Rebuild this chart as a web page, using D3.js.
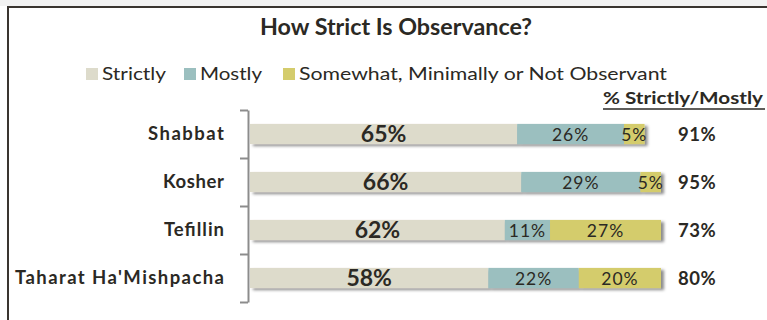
<!DOCTYPE html>
<html><head><meta charset="utf-8">
<script src="https://cdn.jsdelivr.net/npm/d3@7"></script>
<style>
body{margin:0;background:#fff;}
svg{display:block;}
text{font-family:Lato,"Open Sans",sans-serif;fill:#2b2924;}
</style></head>
<body>
<svg id="chart" width="767" height="320"></svg>
<script>
const title = "How Strict Is Observance?";
const categories = ["Shabbat","Kosher","Tefillin","Taharat Ha'Mishpacha"];
const seriesNames = ["Strictly","Mostly","Somewhat, Minimally or Not Observant"];
const strictly = [65,66,62,58];
const mostly = [26,29,11,22];
const somewhat = [5,5,27,20];
const totals = [91,95,73,80];
const totalHeader = "% Strictly/Mostly";
const colors = ["#DDDBCB","#9BBFBF","#D4CC6C"];

const svg = d3.select("#chart");
const defs = svg.append("defs");
const f = defs.append("filter").attr("id","sh").attr("x","-10%").attr("y","-50%").attr("width","130%").attr("height","220%");
f.append("feDropShadow").attr("dx",3).attr("dy",2).attr("stdDeviation",1.8).attr("flood-color","#000").attr("flood-opacity",0.45);

// frame
svg.append("rect").attr("x",0).attr("y",0).attr("width",767).attr("height",6).attr("fill","#f2f2f2");
svg.append("path").attr("d","M8,320 V7 H767").attr("fill","none").attr("stroke","#3a3530").attr("stroke-width",2);

// title
svg.append("text").attr("x",396).attr("y",35).attr("text-anchor","middle")
  .attr("font-size",22).attr("font-weight","bold").attr("textLength",272).attr("lengthAdjust","spacingAndGlyphs").text(title);

// legend
const legX = [86,184,283];
const legW = [64,62,368];
seriesNames.forEach((n,i)=>{
  svg.append("rect").attr("x",legX[i]).attr("y",68).attr("width",12).attr("height",12).attr("fill",colors[i]);
  svg.append("text").attr("x",legX[i]+16).attr("y",80).attr("font-size",17)
    .attr("textLength",legW[i]).attr("lengthAdjust","spacingAndGlyphs").attr("fill","#333").text(n);
});

// scales
const x = d3.scaleLinear().domain([0,100]).range([250,661]);
const y = d3.scaleBand().domain(categories).range([110,302]).paddingInner(0.58).paddingOuter(0.29);
const yEdge = d3.scaleLinear().domain([0,categories.length]).range([110,302]);

// axis
const ax = svg.append("g").attr("transform","translate(248,0)")
  .call(d3.axisLeft(yEdge).tickValues(d3.range(categories.length+1)).tickFormat("").tickSize(8).tickSizeOuter(0));
ax.selectAll("path,line").attr("stroke","#8c8c8c").attr("stroke-width",2);

// category labels
const catW = [76,61,60,209];
svg.selectAll("text.cat").data(categories).join("text").attr("class","cat")
  .attr("x",(d,i)=>224-catW[i]).attr("y",d=>y(d)+y.bandwidth()/2+6)
  .attr("font-size",18.5).attr("font-weight","bold")
  .attr("textLength",(d,i)=>catW[i]).attr("lengthAdjust","spacing").text(d=>d);

// stacked data
const rows = categories.map((c,i)=>({cat:c, vals:[strictly[i],mostly[i],somewhat[i]]}));
rows.forEach(r=>{
  let acc=0;
  r.segs = r.vals.map((v,k)=>{const s={k,v,x0:acc,x1:acc+v,cat:r.cat}; acc+=v; return s;});
});

const g = svg.append("g");
const rg = g.selectAll("g.row").data(rows).join("g").attr("class","row");
rg.append("g").attr("filter","url(#sh)").selectAll("rect").data(d=>d.segs).join("rect")
  .attr("x",d=>x(d.x0)).attr("width",d=>x(d.x1)-x(d.x0))
  .attr("y",d=>y(d.cat)).attr("height",y.bandwidth()).attr("fill",d=>colors[d.k]);
rg.selectAll("text").data(d=>d.segs).join("text")
  .attr("x",d=>(x(d.x0)+x(d.x1))/2).attr("y",d=>y(d.cat)+y.bandwidth()/2+(d.k===0?8:6.5))
  .attr("text-anchor","middle").attr("font-size",d=>d.k===0?23:17.5).attr("font-weight",d=>d.k===0?"bold":"normal")
  .attr("letter-spacing",d=>d.k===0?0:1)
  .text(d=>d.v+"%");

// totals
svg.append("text").attr("x",603).attr("y",104).attr("font-size",17).attr("font-weight","bold")
  .attr("textLength",160).attr("lengthAdjust","spacingAndGlyphs").text(totalHeader);
svg.append("line").attr("x1",603).attr("x2",765).attr("y1",109).attr("y2",109).attr("stroke","#2b2924").attr("stroke-width",1.5);
svg.selectAll("text.tot").data(totals).join("text").attr("class","tot")
  .attr("x",678).attr("y",(d,i)=>y(categories[i])+y.bandwidth()/2+7).attr("font-size",18.5).attr("font-weight","bold")
  .attr("letter-spacing",0.5)
  .text(d=>d+"%");
</script>
</body></html>
